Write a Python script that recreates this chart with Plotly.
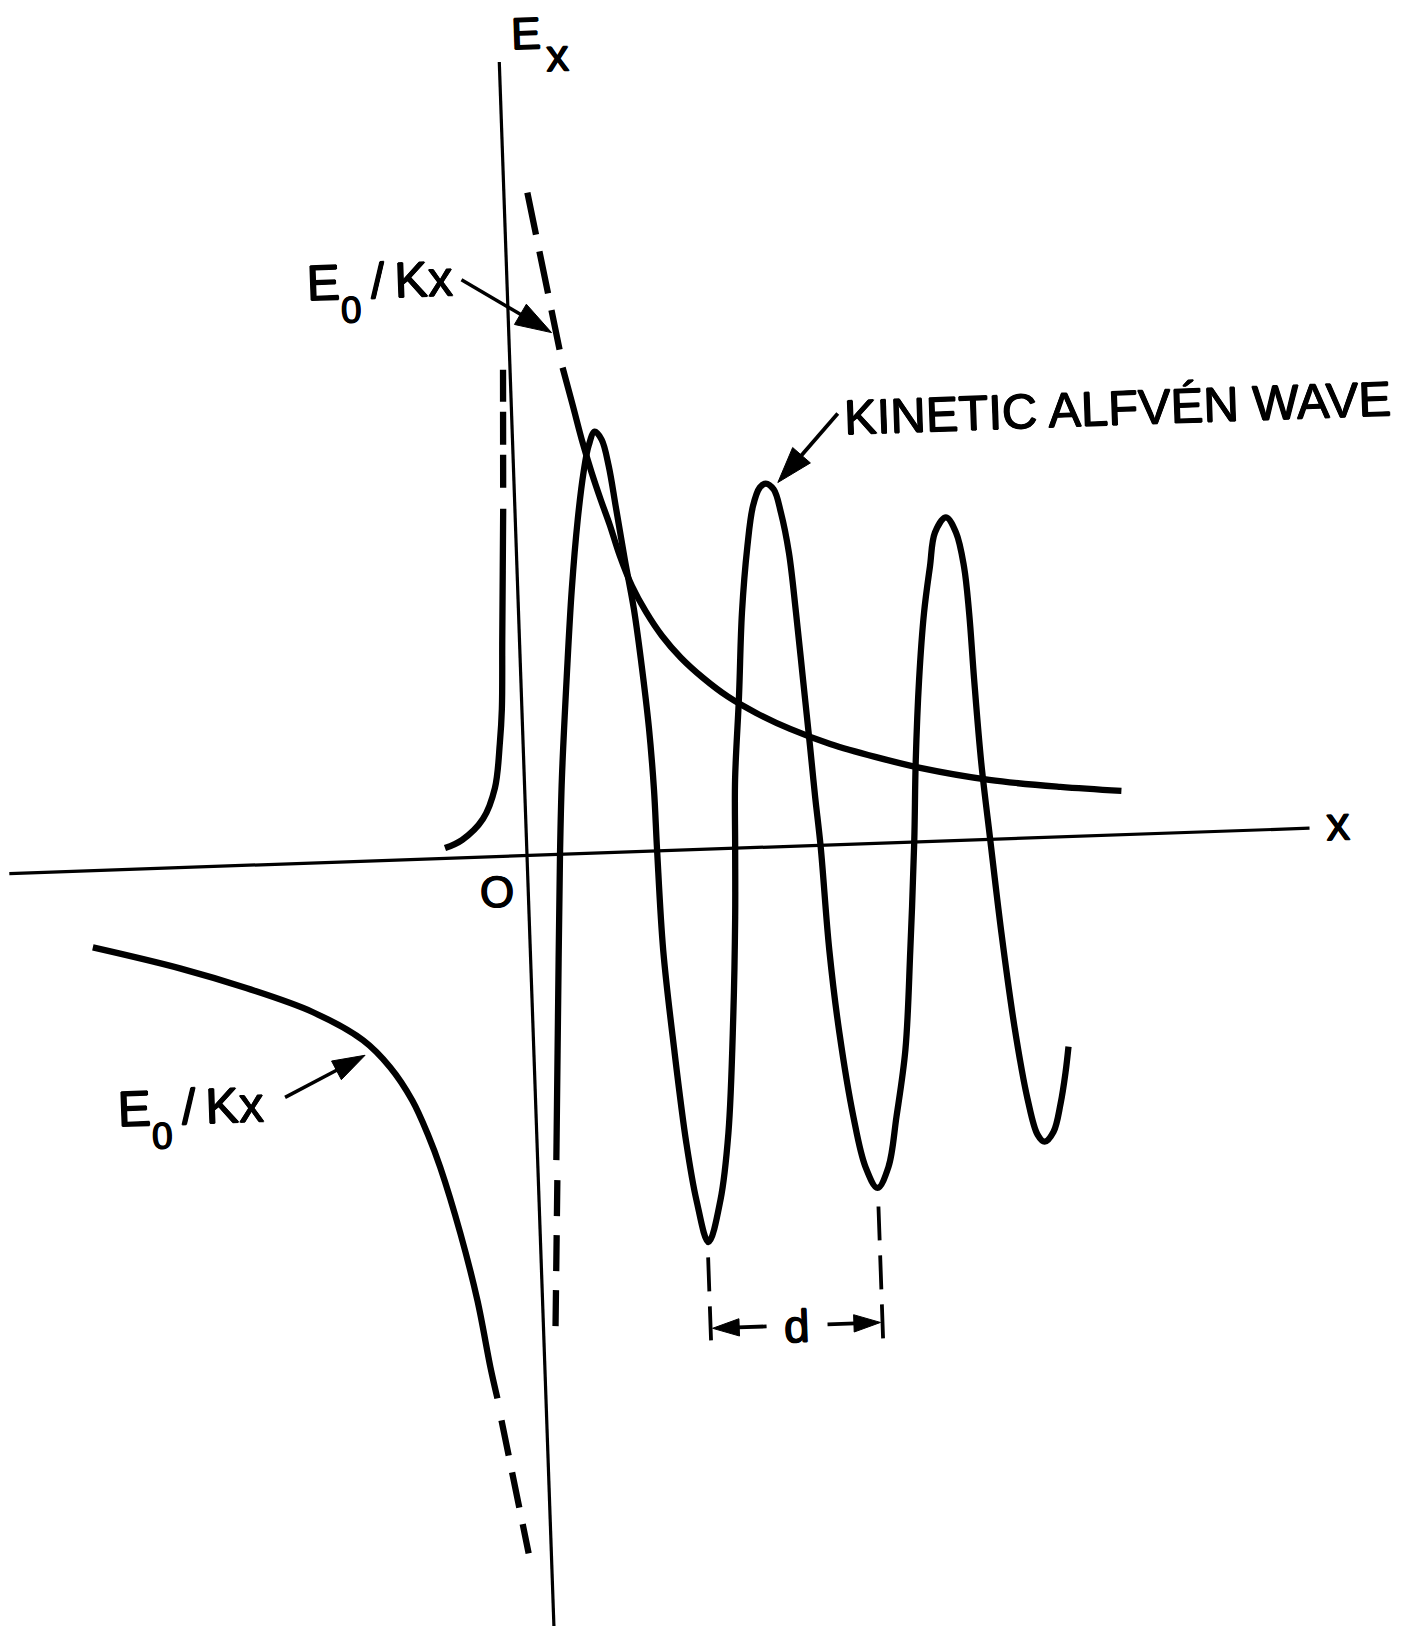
import math
import plotly.graph_objects as go

# Schematic of E_x near the resonance x = 0.
# Coordinates: x along the x-axis, e = E_x, arbitrary units (1 unit = 100 px on the page).

# Kinetic Alfvén wave, evanescent side (x < 0)
kaw_left_x = [-0.817, -0.645, -0.428, -0.297, -0.232, -0.200, -0.172, -0.143, -0.117]
kaw_left_e = [0.103, 0.177, 0.380, 0.686, 1.134, 1.474, 2.163, 2.853, 3.473]
# its singular rise towards x = 0 (dashed)
kaw_left_dash_x = [-0.110, -0.070]
kaw_left_dash_e = [3.683, 4.863]
# singular drop just right of x = 0 (dashed)
kaw_right_dash_x = [0.190, 0.119]
kaw_right_dash_e = [-3.255, -4.755]

# Kinetic Alfvén wave for x > 0
kaw_x = [0.187, 0.261, 0.330, 0.376, 0.462, 0.540, 0.624, 0.700, 0.759, 0.824,
         0.891, 0.952, 1.009, 1.081, 1.154, 1.207, 1.263, 1.292, 1.302, 1.328, 1.404, 1.492, 1.573, 1.679,
         1.813, 1.916, 2.005, 2.059, 2.083, 2.106, 2.174, 2.233, 2.310, 2.379, 2.455, 2.516,
         2.594, 2.657, 2.723, 2.773, 2.820, 2.867, 2.900, 2.938, 2.988, 3.060, 3.171, 3.274, 3.387,
         3.504, 3.601, 3.714, 3.798, 3.875, 3.917, 3.980, 4.053, 4.128, 4.190, 4.305,
         4.400, 4.468, 4.503, 4.530, 4.572, 4.635, 4.714, 4.812, 4.917, 5.005, 5.073, 5.166, 5.246, 5.306, 5.345]
kaw_e = [-3.055, -1.456, -0.006, 0.763, 1.801, 2.640, 3.338, 3.816, 4.074, 4.212,
         4.130, 3.867, 3.455, 2.922, 2.429, 1.916, 1.234, 0.612, 0.011, -0.991, -1.995, -2.929, -3.503, -3.927,
         -3.511, -2.843, -1.685, -0.686, 0.004, 0.684, 1.513, 2.352, 3.010, 3.408, 3.596, 3.634,
         3.571, 3.339, 2.936, 2.334, 1.661, 0.989, 0.487, -0.015, -1.048, -1.881, -2.726, -3.230, -3.444,
         -3.238, -2.741, -2.074, -1.075, 0.003, 0.793, 1.622, 2.290, 2.748, 3.086, 3.233,
         3.079, 2.736, 2.275, 1.603, 0.771, -0.002, -0.936, -1.881, -2.605, -2.968, -3.041, -2.944, -2.666, -2.358, -2.099]

# E0/Kx, x > 0 branch (dashed near the axis, then solid)
ekx_pos_dash_x = [0.235, 0.502]
ekx_pos_dash_e = [6.625, 5.044]
ekx_pos_x = [0.526, 0.613, 0.700, 0.780, 0.861, 0.942, 1.032, 1.142, 1.273, 1.425, 1.607, 1.820,
             2.064, 2.340, 2.674, 3.069, 3.514, 3.960, 4.646, 5.354, 5.963]
ekx_pos_e = [4.863, 4.489, 4.106, 3.803, 3.530, 3.277, 2.963, 2.659, 2.395, 2.149, 1.923, 1.715,
             1.517, 1.345, 1.173, 1.009, 0.864, 0.738, 0.594, 0.499, 0.438]
# E0/Kx, x < 0 branch (solid, then dashed near the axis)
ekx_neg_x = [-4.371, -3.508, -2.845, -2.193, -1.703, -1.442, -1.233, -1.085, -0.976, -0.798, -0.651, -0.544, -0.485]
ekx_neg_e = [-0.767, -1.007, -1.230, -1.492, -1.789, -2.068, -2.406, -2.761, -3.085, -3.752, -4.428, -5.102, -5.415]
ekx_neg_dash_x = [-0.452, -0.227]
ekx_neg_dash_e = [-5.636, -6.975]

# wavelength d between two successive troughs
d_trough_x = [1.67, 3.39]
d_bar_top = [-4.08, -3.63]
d_bar_bottom = -5.0
d_level = -4.79

# axis extents
x_axis_span = [-5.18, 7.83]
e_axis_span = [-8.0, 7.94]

# ---------------------------------------------------------------------------
TILT = math.radians(2.0)          # the sheet is drawn slightly rotated
C, S = math.cos(TILT), math.sin(TILT)
INK = "black"
FONT = "Liberation Sans"
CURVE_W = 6.3
AXIS_W = 3.2
# lettering pen: thicken the glyph strokes a little
PEN = "0.7px 0 0 black, -0.7px 0 0 black, 0 0.7px 0 black, 0 -0.7px 0 black"


def page(us, vs):
    xs = [u * C - v * S for u, v in zip(us, vs)]
    ys = [u * S + v * C for u, v in zip(us, vs)]
    return xs, ys


fig = go.Figure()


def curve(us, vs, width, dash="solid", shape="spline"):
    xs, ys = page(us, vs)
    fig.add_trace(go.Scatter(
        x=xs, y=ys, mode="lines", hoverinfo="skip",
        line=dict(color=INK, width=width, dash=dash, shape=shape, smoothing=1.0),
    ))


def arrow(tail, tip, head, width):
    xs, ys = page([tail[0], tip[0]], [tail[1], tip[1]])
    fig.add_trace(go.Scatter(
        x=xs, y=ys, mode="lines+markers", hoverinfo="skip",
        line=dict(color=INK, width=width),
        marker=dict(symbol="arrow", size=[0, head], angleref="previous", color=INK,
                    opacity=1, line=dict(width=1, color=INK)),
    ))


def label(u, v, text, size, **kw):
    (x,), (y,) = page([u], [v])
    fig.add_annotation(x=x, y=y, text=text, showarrow=False, textangle=-2,
                       font=dict(family=FONT, size=size, color=INK, shadow=PEN),
                       xanchor="center", yanchor="middle", **kw)


# axes
curve(x_axis_span, [0, 0], AXIS_W, shape="linear")
curve([0, 0], e_axis_span, AXIS_W, shape="linear")

# kinetic Alfvén wave
curve(kaw_left_x, kaw_left_e, CURVE_W)
curve(kaw_left_dash_x, kaw_left_dash_e, CURVE_W, dash="33px,10px", shape="linear")
curve(kaw_right_dash_x, kaw_right_dash_e, CURVE_W, dash="36px,19px", shape="linear")
curve(kaw_x, kaw_e, CURVE_W)

# E0/Kx
curve(ekx_pos_dash_x, ekx_pos_dash_e, CURVE_W, dash="43px,17px", shape="linear")
curve(ekx_pos_x, ekx_pos_e, CURVE_W)
curve(ekx_neg_x, ekx_neg_e, CURVE_W)
curve(ekx_neg_dash_x, ekx_neg_dash_e, CURVE_W, dash="36px,17px", shape="linear")

# wavelength marker
for xd, top in zip(d_trough_x, d_bar_top):
    curve([xd, xd], [top, d_bar_bottom], 3.8, dash="34px,15px", shape="linear")
d_mid = (d_trough_x[0] + d_trough_x[1]) / 2
arrow((d_mid - 0.30, d_level), (d_trough_x[0] + 0.02, d_level), 28, 3.8)
arrow((d_mid + 0.31, d_level), (d_trough_x[1] - 0.02, d_level), 28, 3.8)

# pointers
arrow((-0.454, 5.777), (0.428, 5.217), 38, 3.5)
arrow((-2.502, -2.333), (-1.688, -1.940), 34, 3.5)
arrow((3.260, 4.309), (2.637, 3.640), 38, 3.8)

# labels
SUB0 = "<sub><span style='font-size:37px;baseline-shift:-13px'>0</span></sub>"
label(0.275, 8.215, "E", 45)
label(0.589, 7.989, "x", 46)
label(8.119, 0.04, "x", 48)
label(-0.312, -0.345, "O", 44)
label(-1.272, 5.685, "E" + SUB0 + "\u2009/\u2009Kx", 50)
label(-3.452, -2.50, "E" + SUB0 + "\u2009/\u2009Kx", 50)
label(6.062, 4.264, "KINETIC ALFVÉN WAVE", 49)
label(d_mid, d_level - 0.01, "d", 46)

fig.update_layout(
    width=1404, height=1626,
    margin=dict(l=0, r=0, t=0, b=0),
    paper_bgcolor="white", plot_bgcolor="white",
    showlegend=False,
    xaxis=dict(range=[-5.27, 8.77], visible=False, fixedrange=True),
    yaxis=dict(range=[-7.705, 8.555], visible=False, fixedrange=True),
)

fig.write_html("out.html", config={"displayModeBar": False})
